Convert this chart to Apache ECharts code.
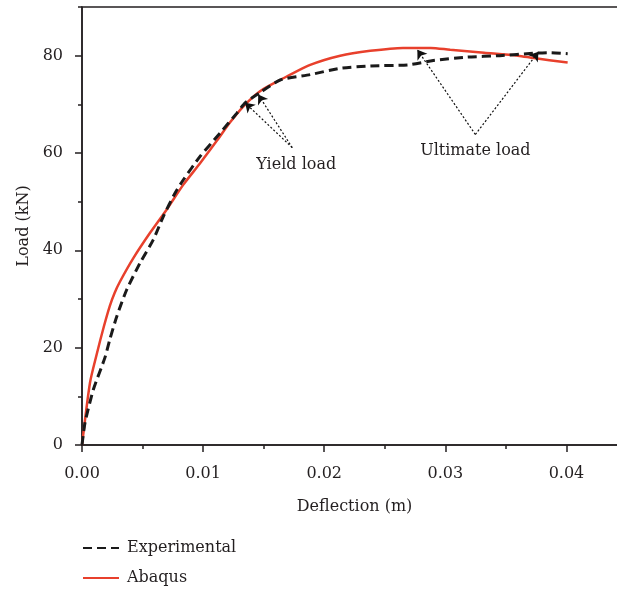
<!DOCTYPE html>
<html>
<head>
<meta charset="utf-8">
<script src="https://cdn.jsdelivr.net/npm/echarts@6/dist/echarts.min.js"></script>
<style>
  html, body { margin: 0; padding: 0; background: #fff; }
  #main { width: 617px; height: 590px; }
</style>
</head>
<body>
<div id="main"></div>
<script>
// deflection (m) / load (kN)
var expX = [0, 0.00025, 0.00094, 0.0019, 0.00231, 0.00287, 0.00369, 0.00479, 0.00589, 0.00672, 0.00769, 0.00837, 0.00975, 0.0114, 0.01279, 0.01347, 0.0147, 0.01636, 0.01884, 0.0213, 0.0238, 0.0269, 0.029, 0.0318, 0.0345, 0.0373, 0.0387, 0.0401];
var expY = [0, 4.6, 11.4, 18, 21.8, 26.4, 31.9, 37.4, 42.2, 47, 51.8, 54.5, 59.3, 64.1, 68.2, 70.3, 72.4, 75, 76.1, 77.4, 77.9, 78.1, 79, 79.7, 80, 80.5, 80.6, 80.4];

var abqX = [0, 0.00066, 0.0012, 0.0018, 0.0023, 0.0027, 0.00314, 0.00424, 0.00562, 0.007, 0.00837, 0.00975, 0.01113, 0.01223, 0.01333, 0.0147, 0.01636, 0.01884, 0.02132, 0.0238, 0.0265, 0.0288, 0.0304, 0.0332, 0.036, 0.0373, 0.0401];
var abqY = [0, 12.8, 18.5, 24.3, 28.6, 31.3, 33.6, 38.4, 43.6, 48.4, 53.5, 57.9, 62.5, 66.3, 69.6, 72.7, 75, 78.1, 80, 81, 81.6, 81.6, 81.2, 80.6, 80, 79.5, 78.6];

// annotation arrows: [from, to] in data units
var yieldArrows = [[[0.01736, 61.1], [0.01347, 70.3]], [[0.01736, 61.1], [0.01455, 72.0]]];
var ultArrows = [[[0.03248, 63.8], [0.02769, 81.2]], [[0.03248, 63.8], [0.03769, 80.8]]];
var notes = [['Yield load', 0.01769, 57.6], ['Ultimate load', 0.03248, 60.5]];

var font = 'DejaVu Serif';
var ink = '#231f20';

function pairs(xs, ys) {
    return xs.map(function (x, i) { return [x, ys[i]]; });
}

var myChart = echarts.init(document.getElementById('main'));

var arrowData = yieldArrows.concat(ultArrows).map(function (a) {
    return [{ coord: a[0] }, { coord: a[1] }];
});

myChart.setOption({
    backgroundColor: '#ffffff',
    animation: false,
    grid: {
        left: 82, top: 7, right: -10, bottom: 145,
        outerBoundsMode: 'none',
        containLabel: false,
        show: true, borderColor: ink, borderWidth: 1.5
    },
    legend: {
        orient: 'vertical',
        left: 82, top: 540,
        padding: 0,
        itemWidth: 36, itemHeight: 14, itemGap: 14,
        itemStyle: { opacity: 0 },
        textStyle: { fontFamily: font, fontSize: 16, color: ink, padding: [0, 0, 0, 3] },
        data: ['Experimental', 'Abaqus']
    },
    xAxis: {
        type: 'value', min: 0, max: 0.045, interval: 0.01,
        name: 'Deflection (m)', nameLocation: 'middle', nameGap: 54,
        nameTextStyle: { fontFamily: font, fontSize: 16, color: ink },
        axisLine: { onZero: false, lineStyle: { color: ink, width: 1.5 } },
        axisTick: { length: 7, lineStyle: { color: ink, width: 1.5 } },
        minorTick: { show: true, splitNumber: 2, length: 4, lineStyle: { color: ink, width: 1.5 } },
        axisLabel: {
            fontFamily: font, fontSize: 16, color: ink, margin: 21,
            showMaxLabel: false,
            formatter: function (v) { return v.toFixed(2); }
        },
        splitLine: { show: false }
    },
    yAxis: [{
        type: 'value', min: 0, max: 90, interval: 20,
        name: 'Load (kN)', nameLocation: 'middle', nameGap: 48,
        nameTextStyle: { fontFamily: font, fontSize: 16, color: ink },
        axisLine: { show: true, lineStyle: { color: ink, width: 1.5 } },
        axisTick: { show: true, length: 7, lineStyle: { color: ink, width: 1.5 } },
        axisLabel: { fontFamily: font, fontSize: 16, color: ink, margin: 19, showMaxLabel: false },
        splitLine: { show: false }
    }, {
        type: 'value', min: 0, max: 90, interval: 10, position: 'left',
        axisLine: { show: false },
        axisTick: { show: true, length: 4, lineStyle: { color: ink, width: 1.5 } },
        axisLabel: { show: false },
        splitLine: { show: false }
    }],
    series: [{
        name: 'Experimental',
        type: 'line',
        smooth: 0.2,
        symbol: 'none',
        data: pairs(expX, expY),
        color: '#1a1a1a',
        lineStyle: { color: '#1a1a1a', width: 3, type: [9, 5] },
        z: 3,
        markLine: {
            silent: true,
            symbol: ['none', 'arrow'],
            symbolSize: 9,
            label: { show: false },
            lineStyle: { color: '#111', width: 1.2, type: [2, 2] },
            data: arrowData
        },
        markPoint: {
            silent: true,
            symbol: 'circle',
            symbolSize: 1,
            itemStyle: { color: 'rgba(0,0,0,0)' },
            label: {
                show: true, position: 'inside',
                fontFamily: font, fontSize: 16, color: ink,
                formatter: function (p) { return p.name; }
            },
            data: notes.map(function (n) { return { name: n[0], coord: [n[1], n[2]] }; })
        }
    }, {
        name: 'Abaqus',
        type: 'line',
        smooth: 0.25,
        symbol: 'none',
        data: pairs(abqX, abqY),
        color: '#e8402c',
        lineStyle: { color: '#e8402c', width: 2.5 },
        z: 2
    }]
});
</script>
</body>
</html>
